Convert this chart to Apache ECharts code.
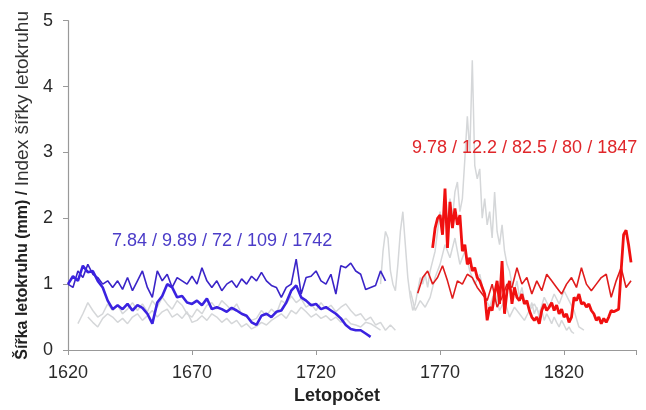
<!DOCTYPE html>
<html>
<head>
<meta charset="utf-8">
<script src="https://cdn.jsdelivr.net/npm/echarts@6/dist/echarts.min.js"></script>
<style>html,body{margin:0;padding:0;background:#fff}#c{width:646px;height:410px}</style>
</head>
<body>
<div id="c"></div>
<script>
// ---- data ----
const xTicks = [1620, 1670, 1720, 1770, 1820];
const yTicks = [0, 1, 2, 3, 4, 5];

// blue: raw ring width (thick), start 1620, every 2 years
const blueWidthStart = 1620, blueWidthStep = 2;
const blueWidth = [1.0,1.12,1.05,1.28,1.18,1.2,1.05,0.95,0.75,0.62,0.68,0.62,0.7,0.6,0.68,0.64,0.55,0.4,0.72,0.82,
  1.0,0.95,0.8,0.82,0.72,0.7,0.75,0.68,0.78,0.62,0.65,0.62,0.58,0.64,0.6,0.55,0.52,0.42,0.38,0.52,
  0.55,0.5,0.58,0.6,0.72,0.9,0.98,0.8,0.75,0.68,0.7,0.62,0.65,0.6,0.55,0.48,0.38,0.32,0.3,0.3,0.25,0.2];

// blue: ring width index (thin), start 1620, every 2 years
const blueIndexStart = 1620, blueIndexStep = 2;
const blueIndex = [1.0,0.95,1.2,1.1,1.3,1.15,1.1,1.0,1.05,0.95,1.05,0.92,1.1,0.9,1.05,1.2,0.95,0.8,1.2,1.05,
  1.15,0.95,1.1,1.05,1.0,1.12,1.0,1.25,1.05,0.95,1.05,0.9,1.0,1.05,0.95,1.08,1.0,1.12,1.05,1.18,
  1.05,0.98,0.95,0.8,0.95,1.0,1.38,0.85,1.1,1.12,1.2,1.05,1.0,1.15,0.85,1.28,1.25,1.32,1.2,1.15,
  0.92,0.95,0.98,1.2,1.05];

// grey reference series
const greyAStart = 1624, greyAStep = 2;
const greyA = [0.4,0.55,0.72,0.6,0.5,0.55,0.7,0.6,0.68,0.55,0.62,0.72,0.6,0.7,0.58,0.75,0.65,0.8,0.7,0.62,
  0.75,0.68,0.55,0.5,0.62,0.55,0.68,0.72,0.62,0.75,0.68,0.6,0.7,0.55,0.5,0.45,0.48,0.6,0.52,0.62,
  0.55,0.75,0.7,0.82,0.72,0.78,0.65,0.7,0.6,0.72,0.62,0.68,0.58,0.65,0.7,0.6,0.52,0.55,0.45,0.5,
  0.38,0.42,0.3,0.38,0.3];

const greyBStart = 1628, greyBStep = 2;
const greyB = [0.5,0.42,0.35,0.48,0.55,0.5,0.42,0.48,0.4,0.5,0.55,0.45,0.52,0.6,0.5,0.58,0.62,0.5,0.55,0.48,
  0.58,0.42,0.45,0.52,0.45,0.55,0.5,0.42,0.48,0.4,0.45,0.35,0.4,0.32,0.36,0.42,0.38,0.45,0.5,0.55,
  0.48,0.6,0.55,0.65,0.58,0.5,0.55,0.48,0.52,0.45,0.5,0.42,0.48,0.4,0.38,0.35,0.42,0.4,0.35,0.3];

const greyCStart = 1746, greyCStep = 1;
const greyC = [1.0,1.5,1.8,1.7,1.2,1.0,0.9,1.3,1.8,2.1,1.6,1.1,0.8,0.6,0.7,0.9,1.1,1.0,1.15,0.95,
  1.2,1.35,1.5,1.8,2.1,1.75,2.2,1.9,2.3,2.0,2.4,2.55,2.1,2.3,2.9,3.55,3.0,4.4,2.8,2.6,
  2.75,2.0,2.3,1.9,2.1,1.7,2.4,1.8,1.6,1.9,1.5,1.3,1.2,1.0,0.9,1.05,0.8,0.95,0.75,0.7,
  0.6,0.72,0.55,0.65,0.5,0.6,0.45,0.55,0.48,0.4,0.5,0.42,0.35,0.45,0.38,0.3,0.35,0.28,0.25];

const greyDStart = 1758, greyDStep = 2;
const greyD = [0.9,0.6,0.75,0.65,0.8,1.1,1.3,1.6,1.4,1.7,1.3,1.5,1.2,1.0,1.15,0.8,0.65,0.9,0.6,0.75,
  0.5,0.65,0.55,0.45,0.6,0.7,0.55,0.8,0.65,0.85,0.7,0.9,0.75,0.6,0.35,0.3];

// red: raw ring width (thick), start 1767, every year
const redWidthStart = 1767, redWidthStep = 1;
const redWidth = [1.55,1.85,2.0,2.05,1.75,2.45,1.55,2.25,1.85,2.15,1.9,2.05,1.5,1.6,1.3,1.4,1.2,1.25,1.1,1.05,
  0.95,0.85,0.45,0.65,0.6,0.85,1.05,0.7,1.35,0.55,0.9,1.05,0.7,0.95,0.8,0.75,0.85,0.7,0.75,0.6,
  0.5,0.45,0.5,0.4,0.6,0.7,0.6,0.65,0.72,0.6,0.68,0.55,0.62,0.5,0.55,0.42,0.5,0.8,0.75,0.85,
  0.7,0.72,0.65,0.7,0.6,0.55,0.45,0.5,0.4,0.48,0.42,0.5,0.6,0.58,0.6,0.62,1.2,1.75,1.82,1.6,1.33];

// red: ring width index (thin), start 1761, every 2 years
const redIndexStart = 1761, redIndexStep = 2;
const redIndex = [0.86,1.1,1.2,1.0,1.1,1.28,1.05,0.78,1.05,1.0,1.15,1.1,0.95,0.85,0.75,1.0,0.65,0.8,1.0,0.95,
  1.25,1.0,1.1,0.85,1.05,0.9,1.15,1.05,0.95,0.85,1.0,1.1,0.95,1.25,1.0,0.9,1.0,1.1,1.15,0.8,
  1.05,1.25,0.95,1.05];

const blueLabel = '7.84 / 9.89 / 72 / 109 / 1742';
const redLabel = '9.78 / 12.2 / 82.5 / 80 / 1847';

// ---- chart ----
function seq(start, step, vals) { return vals.map((v, i) => [start + i * step, v]); }
const FONT = '"Liberation Sans", Arial, sans-serif';
const chart = echarts.init(document.getElementById('c'));
function line(data, color, width) {
  return { type: 'line', data: data, symbol: 'none', smooth: false, animation: false,
    lineStyle: { color: color, width: width }, itemStyle: { color: color }, z: 2 };
}
const greyCol = '#d5d7d9';
chart.setOption({
  animation: false,
  grid: { left: 68, right: 10, top: 20.7, bottom: 56.5 },
  xAxis: {
    type: 'value', min: xTicks[0], max: 1849, interval: 50,
    name: 'Letopočet', nameLocation: 'middle', nameGap: 37,
    nameTextStyle: { fontFamily: FONT, fontSize: 18, fontWeight: 'bold', color: '#222', padding: [0, 30, 0, 0] },
    axisLine: { show: true, onZero: false, lineStyle: { color: '#999', width: 1.2 } },
    axisTick: { show: true, length: 5, lineStyle: { color: '#999' } },
    splitLine: { show: false },
    axisLabel: { fontFamily: FONT, fontSize: 18, color: '#2a2a2a', margin: 14,
      customValues: xTicks, formatter: v => String(v) }
  },
  yAxis: {
    type: 'value', min: yTicks[0], max: yTicks[yTicks.length - 1], interval: 1,
    name: '{b|Šířka letokruhu (mm) /} {n|Index šířky letokruhu}',
    nameLocation: 'middle', nameGap: 30,
    nameTextStyle: { fontFamily: FONT, fontSize: 16, fontWeight: 'bold', color: '#222',
      rich: { b: { fontFamily: FONT, fontSize: 16, fontWeight: 'bold', color: '#222' },
              n: { fontFamily: FONT, fontSize: 19, fontWeight: 'normal', color: '#333' } } },
    axisLine: { show: true, lineStyle: { color: '#999', width: 1.2 } },
    axisTick: { show: true, length: 5, lineStyle: { color: '#999' } },
    splitLine: { show: false },
    axisLabel: { fontFamily: FONT, fontSize: 18, color: '#2a2a2a', margin: 15 }
  },
  series: [
    line(seq(greyAStart, greyAStep, greyA), greyCol, 1.5),
    line(seq(greyBStart, greyBStep, greyB), greyCol, 1.5),
    line(seq(greyCStart, greyCStep, greyC), greyCol, 1.5),
    line(seq(greyDStart, greyDStep, greyD), greyCol, 1.5),
    line(seq(blueIndexStart, blueIndexStep, blueIndex), '#3a24c8', 1.6),
    line(seq(blueWidthStart, blueWidthStep, blueWidth), '#3a22e0', 2.6),
    line(seq(redIndexStart, redIndexStep, redIndex), '#e01c1c', 1.6),
    line(seq(redWidthStart, redWidthStep, redWidth), '#f01010', 2.8)
  ],
  graphic: [
    { type: 'text', x: 112, y: 241, z: 10,
      style: { text: blueLabel, fontFamily: FONT, fontSize: 18, fill: '#4b3cc8', verticalAlign: 'middle', align: 'left' } },
    { type: 'text', x: 412, y: 148, z: 10,
      style: { text: redLabel, fontFamily: FONT, fontSize: 18, fill: '#e0262a', verticalAlign: 'middle', align: 'left' } }
  ]
});
</script>
</body>
</html>
